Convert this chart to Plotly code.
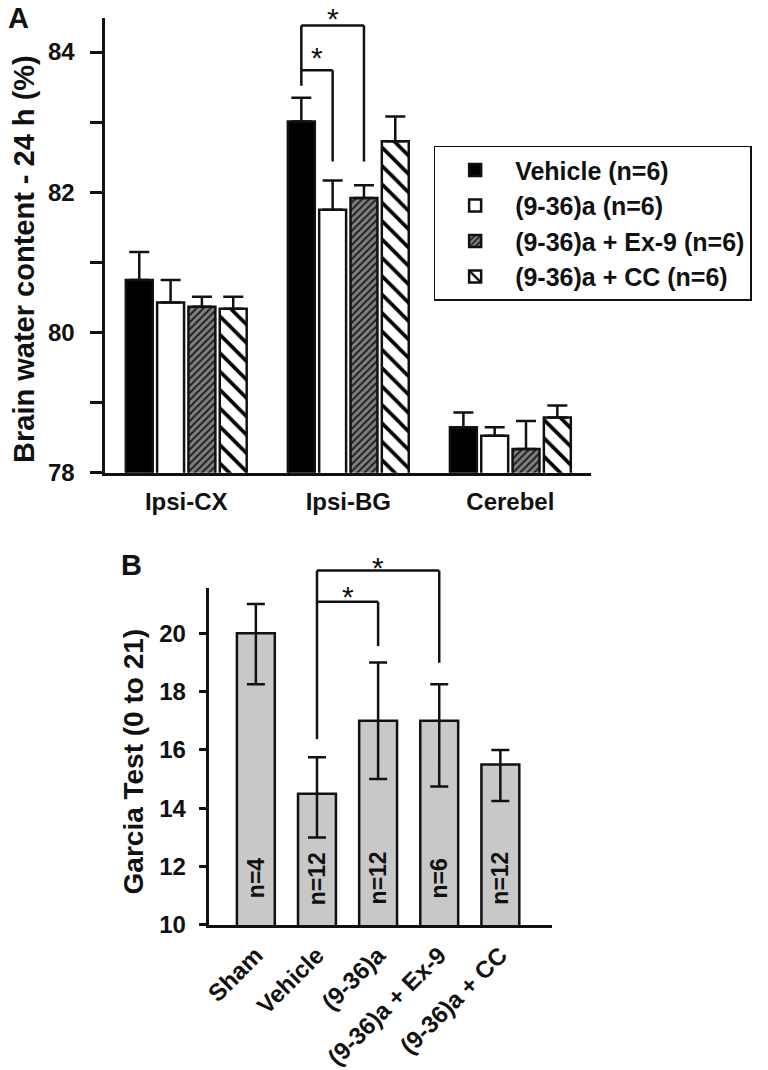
import plotly.graph_objects as go

# ---------------- Panel A data ----------------
groups = ["Ipsi-CX", "Ipsi-BG", "Cerebel"]
series_names = ["Vehicle (n=6)", "(9-36)a (n=6)", "(9-36)a + Ex-9 (n=6)", "(9-36)a + CC (n=6)"]
vehicle = [80.75, 83.01, 78.65]
vehicle_err = [0.40, 0.34, 0.21]
a936 = [80.43, 81.75, 78.53]
a936_err = [0.32, 0.42, 0.12]
ex9 = [80.37, 81.92, 78.34]
ex9_err = [0.14, 0.18, 0.40]
cc = [80.34, 82.73, 78.79]
cc_err = [0.17, 0.35, 0.17]
a_ticks = [78, 79, 80, 81, 82, 83, 84]
a_ticktext = ["78", "", "80", "", "82", "", "84"]

# ---------------- Panel B data ----------------
b_cats = ["Sham", "Vehicle", "(9-36)a", "(9-36)a + Ex-9", "(9-36)a + CC"]
garcia = [20.0, 14.5, 17.0, 17.0, 15.5]
garcia_plus = [1.0, 1.25, 2.0, 1.25, 0.5]
garcia_minus = [1.75, 1.5, 2.0, 2.25, 1.25]
n_labels = ["n=4", "n=12", "n=12", "n=6", "n=12"]
b_ticks = [10, 12, 14, 16, 18, 20]

FONT = "Arial, Liberation Sans, sans-serif"
INK = "#111111"
W, H = 768, 1070

# layout geometry (fractions of the 768x1070 page)
A_XDOM = [100 / W, 590 / W]
A_YDOM = [1 - 480 / H, 1 - 18 / H]
B_XDOM = [205 / W, 550 / W]
B_YDOM = [1 - 939 / H, 1 - 597 / H]
A_YRANGE = [78, 84.49]
B_YRANGE = [10, 21.55]
B_XRANGE = [-0.76, 4.84]
BARGAP = 0.227
BARGROUPGAP = 0.14

fig = go.Figure()

styles = [
    dict(color="black", pattern=dict(shape="")),
    dict(color="white", pattern=dict(shape="")),
    dict(color="#6e6e6e", pattern=dict(shape="/", fgcolor="#1e1e1e", bgcolor="#808080",
                                       size=5, solidity=0.4, fillmode="replace")),
    dict(color="white", pattern=dict(shape="\\", fgcolor="black", bgcolor="white",
                                     size=13, solidity=0.28, fillmode="replace")),
]
vals = [vehicle, a936, ex9, cc]
errs = [vehicle_err, a936_err, ex9_err, cc_err]
xa = list(range(len(groups)))
for name, v, e, st in zip(series_names, vals, errs, styles):
    fig.add_trace(go.Bar(
        x=xa, y=v, name=name, xaxis="x", yaxis="y",
        marker=dict(color=st["color"], pattern=st["pattern"],
                    line=dict(color=INK, width=2.5)),
        error_y=dict(type="data", symmetric=False, array=e, arrayminus=[0] * len(e),
                     color=INK, thickness=2.5, width=10),
        showlegend=True,
    ))

fig.add_trace(go.Bar(
    x=list(range(len(b_cats))), y=garcia, xaxis="x2", yaxis="y2", width=0.62,
    marker=dict(color="#c8c8c8", line=dict(color=INK, width=2.5)),
    error_y=dict(type="data", symmetric=False, array=garcia_plus, arrayminus=garcia_minus,
                 color=INK, thickness=2.5, width=9),
    showlegend=False,
))

# n labels inside bars
annotations = []
for i, t in enumerate(n_labels):
    annotations.append(dict(x=i, y=11.6, xref="x2", yref="y2", text="<b>" + t + "</b>",
                            textangle=-90, showarrow=False, xanchor="center", yanchor="middle",
                            font=dict(family=FONT, size=23, color=INK)))

# bar centre offsets for grouped bars in panel A
nser = len(series_names)
slot = (1 - BARGAP) / nser
def a_center(group, series):
    return group - (1 - BARGAP) / 2 + slot * (series + 0.5)

def seg(x0, y0, x1, y1, xref, yref):
    return dict(type="line", x0=x0, y0=y0, x1=x1, y1=y1, xref=xref, yref=yref,
                line=dict(color=INK, width=2.5))

def apy(v):
    return A_YDOM[0] + (v - A_YRANGE[0]) / (A_YRANGE[1] - A_YRANGE[0]) * (A_YDOM[1] - A_YDOM[0])

def bpy(v):
    return B_YDOM[0] + (v - B_YRANGE[0]) / (B_YRANGE[1] - B_YRANGE[0]) * (B_YDOM[1] - B_YDOM[0])

def star(x, xref, ypaper, anchor="middle", shift=-6):
    return dict(x=x, y=ypaper, xref=xref, yref="paper", text="*", showarrow=False,
                xanchor="center", yanchor=anchor, yshift=shift,
                font=dict(family=FONT, size=30, color=INK))

shapes = []
# Panel A brackets (Ipsi-BG: vehicle vs a936, vehicle vs ex9)
xv, xw, xe = a_center(1, 0), a_center(1, 1), a_center(1, 2)
shapes += [seg(xv, 83.52, xv, 84.38, "x", "y"), seg(xv, 84.38, xe, 84.38, "x", "y"),
           seg(xe, 84.38, xe, 82.44, "x", "y"),
           seg(xv, 83.74, xw, 83.74, "x", "y"), seg(xw, 83.74, xw, 82.44, "x", "y")]
annotations.append(star((xv + xe) / 2, "x", 1.0, anchor="top", shift=0))
annotations.append(star((xv + xw) / 2, "x", apy(84.01)))

# Panel B brackets (in paper y so they may rise above the axis)
shapes += [seg(1, bpy(16.37), 1, bpy(22.15), "x2", "paper"),
           seg(1, bpy(22.15), 3, bpy(22.15), "x2", "paper"),
           seg(3, bpy(22.15), 3, bpy(18.99), "x2", "paper"),
           seg(1, bpy(21.08), 2, bpy(21.08), "x2", "paper"),
           seg(2, bpy(21.08), 2, bpy(19.56), "x2", "paper")]
annotations.append(star(2, "x2", bpy(22.45)))
annotations.append(star(1.5, "x2", bpy(21.45)))

# panel letters and axis titles
annotations += [
    dict(x=13 / W, y=1.0, xref="paper", yref="paper", text="<b>A</b>", showarrow=False,
         xanchor="center", yanchor="top", font=dict(family=FONT, size=29, color=INK)),
    dict(x=126 / W, y=1 - 574 / H, xref="paper", yref="paper", text="<b>B</b>", showarrow=False,
         xanchor="center", yanchor="middle", font=dict(family=FONT, size=29, color=INK)),
    dict(x=18 / W, y=1 - 263 / H, xref="paper", yref="paper",
         text="<b>Brain water content - 24 h (%)</b>", textangle=-90, showarrow=False,
         xanchor="center", yanchor="middle", font=dict(family=FONT, size=29, color=INK)),
    dict(x=128 / W, y=1 - 773 / H, xref="paper", yref="paper",
         text="<b>Garcia Test (0 to 21)</b>", textangle=-90, showarrow=False,
         xanchor="center", yanchor="middle", font=dict(family=FONT, size=28, color=INK)),
]

tickfont = dict(family=FONT, size=24, color=INK, weight="bold")

fig.update_layout(
    autosize=True, margin=dict(l=0, r=0, t=0, b=0),
    paper_bgcolor="white", plot_bgcolor="white",
    barmode="group", bargap=BARGAP, bargroupgap=BARGROUPGAP,
    font=dict(family=FONT, color=INK),
    xaxis=dict(domain=A_XDOM, anchor="y", range=[-0.5, 2.5], tickvals=xa, ticktext=groups,
               showline=True, linecolor=INK, linewidth=2.5, ticks="", showgrid=False,
               zeroline=False, tickfont=tickfont, ticklabelstandoff=6),
    yaxis=dict(domain=A_YDOM, anchor="x", range=A_YRANGE, tickvals=a_ticks, ticktext=a_ticktext,
               showline=True, linecolor=INK, linewidth=2.5, ticks="outside", ticklen=12,
               tickwidth=2.5, tickcolor=INK, showgrid=False, zeroline=False, tickfont=tickfont,
               ticklabelstandoff=11),
    xaxis2=dict(domain=B_XDOM, anchor="y2", range=B_XRANGE, tickvals=list(range(len(b_cats))),
                ticktext=b_cats, tickangle=-45, showline=True, linecolor=INK, linewidth=2.5,
                ticks="", showgrid=False, zeroline=False, tickfont=tickfont,
                ticklabelstandoff=4),
    yaxis2=dict(domain=B_YDOM, anchor="x2", range=B_YRANGE, tickvals=b_ticks,
                showline=True, linecolor=INK, linewidth=2.5, ticks="outside", ticklen=8,
                tickwidth=2.5, tickcolor=INK, showgrid=False, zeroline=False, tickfont=tickfont,
                ticklabelstandoff=8),
    legend=dict(x=431 / W, y=1 - 148 / H, xanchor="left", yanchor="top",
                bgcolor="white", bordercolor=INK, borderwidth=1.5,
                font=dict(family=FONT, size=25, color=INK, weight="bold"),
                itemwidth=70, tracegroupgap=0),
    shapes=shapes, annotations=annotations,
)

page_css = ("var s=document.createElement('style');"
            "s.textContent='html,body{margin:0!important;padding:0!important;overflow:hidden;}"
            ".plotly-graph-div{position:fixed!important;top:0;left:0;}';"
            "document.head.appendChild(s);")
fig.write_html("out.html", config={"displayModeBar": False},
               default_width="100vw", default_height="100vh", post_script=page_css)
